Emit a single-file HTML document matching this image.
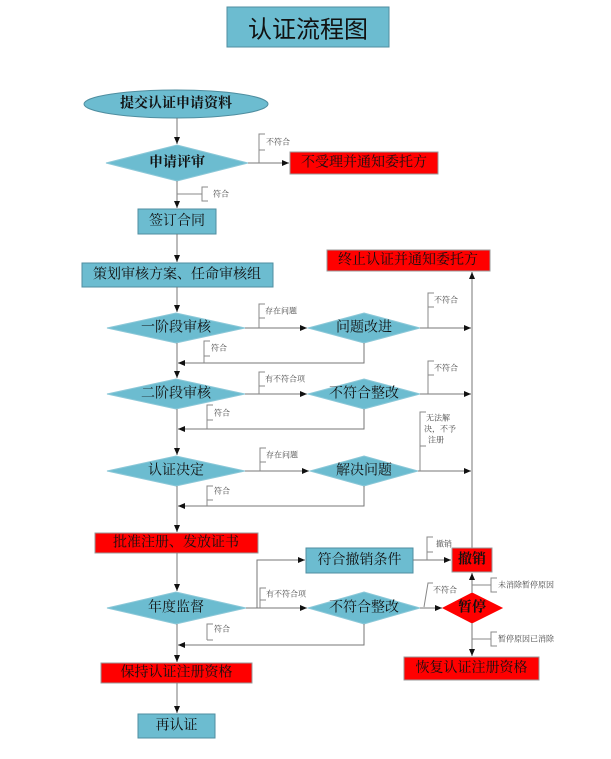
<!DOCTYPE html>
<html><head><meta charset="utf-8"><style>
html,body{margin:0;padding:0;background:#fff;}
svg{display:block;}
text{font-family:"Liberation Serif","Noto Serif CJK SC","Noto Sans CJK SC",serif;fill:#111;}
.m{font-size:14px;text-anchor:middle;dominant-baseline:central;}
.s{font-size:8px;fill:#444;dominant-baseline:central;}
.l{stroke:#777;stroke-width:1;fill:none;}
.b{stroke:#888;stroke-width:1;fill:none;}
.t{fill:#6cbcd0;stroke:#4f8ea0;stroke-width:1;}
.d{fill:#6cbcd0;stroke:#8cc8d8;stroke-width:1;}
.r{fill:#ff0000;stroke:#999;stroke-width:1;}
</style></head><body>
<svg width="611" height="759" viewBox="0 0 611 759" xmlns="http://www.w3.org/2000/svg">
<defs><marker id="a" markerWidth="8" markerHeight="8" refX="7" refY="4" orient="auto" markerUnits="userSpaceOnUse"><path d="M0,1 L7,4 L0,7 z" fill="#111"/></marker></defs>

<rect x="227" y="7" width="162" height="40" class="t"/>
<text x="308" y="27" class="m" style="font-size:24px;font-family:'Noto Sans CJK SC',sans-serif">认证流程图</text>

<ellipse cx="176" cy="104" rx="92" ry="14" class="d" style="stroke:#4f8ea0"/>
<text x="176" y="104" class="m" style="font-weight:bold">提交认证申请资料</text>

<!-- main vertical -->
<line x1="177" y1="118" x2="177" y2="144" class="l" marker-end="url(#a)"/>
<polygon points="177,145 248,163 177,181 106,163" class="d"/>
<text x="177" y="163" class="m" style="font-weight:bold">申请评审</text>
<line x1="248" y1="163" x2="289" y2="163" class="l" marker-end="url(#a)"/>
<path d="M265,134 H259 V163 M259,150 H265" class="b"/>
<text x="266" y="142" class="s">不符合</text>
<rect x="290" y="152" width="148" height="22" class="r"/>
<text x="364" y="163" class="m">不受理并通知委托方</text>

<line x1="177" y1="181" x2="177" y2="208" class="l" marker-end="url(#a)"/>
<path d="M177,194 H202 M208,187 H202 V201 H208" class="b"/>
<text x="213" y="194" class="s">符合</text>
<rect x="138" y="209" width="78" height="25" class="t"/>
<text x="177" y="221.5" class="m">签订合同</text>

<line x1="177" y1="234" x2="177" y2="262" class="l" marker-end="url(#a)"/>
<rect x="82" y="263" width="191" height="24" class="t"/>
<text x="177" y="275" class="m">策划审核方案、任命审核组</text>

<rect x="327" y="250" width="163" height="21" class="r"/>
<text x="408" y="260.5" class="m">终止认证并通知委托方</text>
<line x1="472" y1="548" x2="472" y2="272" class="l" marker-end="url(#a)"/>

<!-- stage 1 -->
<line x1="177" y1="287" x2="177" y2="312" class="l" marker-end="url(#a)"/>
<polygon points="176,313 245,328 176,343 107,328" class="d"/>
<text x="176" y="328" class="m">一阶段审核</text>
<line x1="245" y1="328" x2="307" y2="328" class="l" marker-end="url(#a)"/>
<path d="M265,304 H259 V328 M259,318 H265" class="b"/>
<text x="265" y="311" class="s">存在问题</text>
<polygon points="364,313 420,328 364,343 308,328" class="d"/>
<text x="364" y="328" class="m">问题改进</text>
<line x1="420" y1="328" x2="471" y2="328" class="l" marker-end="url(#a)"/>
<path d="M434,293 H428 V328 M428,307 H434" class="b"/>
<text x="434" y="300" class="s">不符合</text>
<path d="M364,343 V363 H178" class="l" marker-end="url(#a)"/>
<path d="M210,341 H204 V363 M204,356 H210" class="b"/>
<text x="211" y="348" class="s">符合</text>

<!-- stage 2 -->
<line x1="177" y1="343" x2="177" y2="378" class="l" marker-end="url(#a)"/>
<polygon points="176,379 245,394 176,409 107,394" class="d"/>
<text x="176" y="394" class="m">二阶段审核</text>
<line x1="245" y1="394" x2="307" y2="394" class="l" marker-end="url(#a)"/>
<path d="M265,372 H259 V394 M259,386 H265" class="b"/>
<text x="265" y="379" class="s">有不符合项</text>
<polygon points="364,379 420,394 364,409 308,394" class="d"/>
<text x="364" y="394" class="m">不符合整改</text>
<line x1="420" y1="394" x2="471" y2="394" class="l" marker-end="url(#a)"/>
<path d="M434,361 H428 V394 M428,375 H434" class="b"/>
<text x="434" y="368" class="s">不符合</text>
<path d="M364,409 V429 H178" class="l" marker-end="url(#a)"/>
<path d="M213,405 H207 V429 M207,420 H213" class="b"/>
<text x="214" y="413" class="s">符合</text>

<!-- decision -->
<line x1="177" y1="409" x2="177" y2="455" class="l" marker-end="url(#a)"/>
<polygon points="176,456 245,471 176,486 107,471" class="d"/>
<text x="176" y="471" class="m">认证决定</text>
<line x1="245" y1="471" x2="309" y2="471" class="l" marker-end="url(#a)"/>
<path d="M266,448 H260 V471 M260,462 H266" class="b"/>
<text x="266" y="455" class="s">存在问题</text>
<polygon points="364,456 418,471 364,486 310,471" class="d"/>
<text x="364" y="471" class="m">解决问题</text>
<line x1="418" y1="471" x2="471" y2="471" class="l" marker-end="url(#a)"/>
<path d="M426,412 H420 V471 M420,446 H426" class="b"/>
<text x="426" y="418" class="s">无法解</text>
<text x="424" y="429" class="s">决，不予</text>
<text x="428" y="440" class="s">注册</text>
<path d="M364,486 V506 H178" class="l" marker-end="url(#a)"/>
<path d="M213,486 H207 V506 M207,500 H213" class="b"/>
<text x="214" y="491" class="s">符合</text>

<line x1="177" y1="486" x2="177" y2="532" class="l" marker-end="url(#a)"/>
<rect x="95" y="533" width="163" height="20" class="r"/>
<text x="176" y="543" class="m">批准注册、发放证书</text>

<!-- annual -->
<line x1="177" y1="553" x2="177" y2="591" class="l" marker-end="url(#a)"/>
<polygon points="176,592 246,608 176,624 107,608" class="d"/>
<text x="176" y="608" class="m">年度监督</text>
<path d="M246,608 H257 V560 H305" class="l" marker-end="url(#a)"/>
<line x1="257" y1="608" x2="307" y2="608" class="l" marker-end="url(#a)"/>
<path d="M266,588 H260 V608 M260,600 H266" class="b"/>
<text x="266" y="594" class="s">有不符合项</text>
<rect x="306" y="548" width="107" height="25" class="t"/>
<text x="359.5" y="560.5" class="m">符合撤销条件</text>
<line x1="413" y1="560" x2="451" y2="560" class="l" marker-end="url(#a)"/>
<path d="M433,537 H427 V560 M427,552 H433" class="b"/>
<text x="436" y="544" class="s">撤销</text>
<rect x="452" y="548" width="40" height="24" class="r"/>
<text x="472" y="560" class="m" style="font-weight:bold">撤销</text>

<polygon points="364,592 420,608 364,624 308,608" class="d"/>
<text x="364" y="608" class="m">不符合整改</text>
<line x1="420" y1="608" x2="442" y2="608" class="l" marker-end="url(#a)"/>
<path d="M433,583 H428 L424,607" class="b"/>
<text x="433" y="590" class="s">不符合</text>
<polygon points="472,593 502,608 472,623 443,608" class="r" style="stroke:#ff0000"/>
<text x="472" y="608" class="m" style="font-weight:bold">暂停</text>
<line x1="472" y1="593" x2="472" y2="573" class="l" marker-end="url(#a)"/>
<path d="M497,578 H491 V592 H497 M472,585 H491" class="b"/>
<text x="498" y="585" class="s">未消除暂停原因</text>
<line x1="472" y1="623" x2="472" y2="656" class="l" marker-end="url(#a)"/>
<path d="M497,632 H491 V646 H497 M472,639 H491" class="b"/>
<text x="498" y="639" class="s">暂停原因已消除</text>
<rect x="404" y="657" width="135" height="23" class="r"/>
<text x="471.5" y="668.5" class="m">恢复认证注册资格</text>

<path d="M364,624 V645 H178" class="l" marker-end="url(#a)"/>
<path d="M213,624 H207 V640 M207,640 H213" class="b"/>
<text x="214" y="629" class="s">符合</text>

<line x1="177" y1="624" x2="177" y2="662" class="l" marker-end="url(#a)"/>
<rect x="101" y="663" width="151" height="20" class="r"/>
<text x="176.5" y="673" class="m">保持认证注册资格</text>
<line x1="177" y1="683" x2="177" y2="713" class="l" marker-end="url(#a)"/>
<rect x="138" y="714" width="77" height="24" class="t"/>
<text x="176.5" y="726" class="m">再认证</text>
</svg>
</body></html>
